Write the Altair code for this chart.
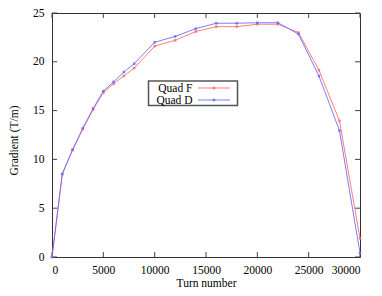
import altair as alt
import pandas as pd

turns = [0, 1000, 2000, 3000, 4000, 5000, 6000, 7000, 8000, 10000, 12000,
         14000, 16000, 18000, 20000, 22000, 24000, 26000, 28000, 30000]
quad_f = [0.0, 8.5, 10.95, 13.1, 15.1, 16.85, 17.75, 18.55, 19.35, 21.6, 22.2,
          23.1, 23.6, 23.6, 23.85, 23.85, 23.0, 19.15, 13.95, 1.9]
quad_d = [0.0, 8.5, 11.0, 13.2, 15.2, 17.0, 17.95, 18.95, 19.8, 22.0, 22.6,
          23.4, 23.95, 23.95, 24.0, 24.0, 22.85, 18.55, 12.95, 0.4]
series = ["Quad F", "Quad D"]
colors = ["#ff6666", "#6666ff"]
x_ticks = [0, 5000, 10000, 15000, 20000, 25000, 30000]
y_ticks = [0, 5, 10, 15, 20, 25]

rows = []
for name, vals in zip(series, [quad_f, quad_d]):
    for t, v in zip(turns, vals):
        rows.append({"turn": t, "grad": v, "series": name})
df = pd.DataFrame(rows)

W, H = 308, 244
FONT = "Liberation Serif"
xs = alt.Scale(domain=[0, 30000], nice=False)
ys = alt.Scale(domain=[0, 25], nice=False)
cs = alt.Scale(domain=series, range=colors)

axis_font = dict(labelFont=FONT, labelFontSize=11.5, labelColor="black",
                 titleFont=FONT, titleFontSize=11.5, titleFontWeight="normal",
                 titleColor="black", ticks=False, grid=False, domain=False)

lines = alt.Chart(df).mark_line(
    strokeWidth=1, opacity=0.85,
    point=alt.OverlayMarkDef(size=6, filled=True, shape="square", opacity=0.85)
).encode(
    x=alt.X("turn:Q", scale=xs, title="Turn number",
            axis=alt.Axis(values=x_ticks, labelPadding=7, format="d",
                          titleY=29, titleBaseline="alphabetic", **axis_font)),
    y=alt.Y("grad:Q", scale=ys, title="Gradient (T/m)",
            axis=alt.Axis(values=y_ticks, labelPadding=8, titleX=-35, titleY=127,
                          titleBaseline="alphabetic", **axis_font)),
    color=alt.Color("series:N", scale=cs, legend=None),
)

xt = pd.DataFrame({"v": x_ticks})
yt = pd.DataFrame({"v": y_ticks})
tick_style = dict(color="#444", strokeWidth=1)
bx = alt.Chart(xt).mark_rule(**tick_style).encode(x=alt.X("v:Q", scale=xs), y=alt.value(H), y2=alt.value(H - 5))
tx = alt.Chart(xt).mark_rule(**tick_style).encode(x=alt.X("v:Q", scale=xs), y=alt.value(0), y2=alt.value(5))
ly = alt.Chart(yt).mark_rule(**tick_style).encode(y=alt.Y("v:Q", scale=ys), x=alt.value(0), x2=alt.value(5))
ry = alt.Chart(yt).mark_rule(**tick_style).encode(y=alt.Y("v:Q", scale=ys), x=alt.value(W), x2=alt.value(W - 5))

# custom legend (labels left, line samples right, as in the reference)
leg = pd.DataFrame({"series": series})
box = alt.Chart(leg.head(1)).mark_rect(fill="white", stroke="#555", strokeWidth=1.5).encode(
    x=alt.value(96.5), x2=alt.value(185.5), y=alt.value(68), y2=alt.value(92.5))
legend_layers = [box]
for i, name in enumerate(series):
    yy = 75 + i * 12
    d = leg[leg.series == name]
    legend_layers.append(alt.Chart(d).mark_text(
        align="right", baseline="alphabetic", font=FONT, fontSize=11.5, color="black"
    ).encode(text="series:N", x=alt.value(140.5), y=alt.value(yy + 4.3)))
    legend_layers.append(alt.Chart(d).mark_rule(strokeWidth=1, opacity=0.85).encode(
        color=alt.Color("series:N", scale=cs, legend=None),
        x=alt.value(146), x2=alt.value(178), y=alt.value(yy)))
    legend_layers.append(alt.Chart(d).mark_point(
        shape="square", filled=True, size=6, opacity=0.85).encode(
        color=alt.Color("series:N", scale=cs, legend=None),
        x=alt.value(162), y=alt.value(yy)))

chart = alt.layer(bx, tx, ly, ry, lines, *legend_layers).properties(
    width=W, height=H,
    autosize=alt.AutoSizeParams(type="none"),
    padding={"left": 44, "top": 5, "right": 14, "bottom": 31},
).configure_view(stroke="#333", strokeWidth=1)

chart.save("out.html", embed_options={"renderer": "svg", "actions": False})
